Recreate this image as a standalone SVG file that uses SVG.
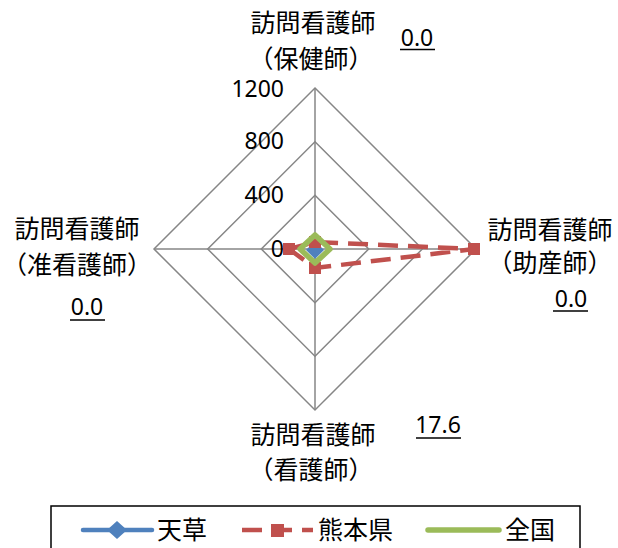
<svg xmlns="http://www.w3.org/2000/svg" width="618" height="548" viewBox="0 0 618 548">
<style>
.cjk{font-family:"Noto Sans CJK JP","Noto Sans",sans-serif;font-size:25px;fill:#000}
.num{font-family:"Noto Sans","Noto Sans CJK JP",sans-serif;font-size:23px;fill:#000}
.grid{fill:none;stroke:#868686;stroke-width:1.5}
.ul{stroke:#000;stroke-width:1.5}
.red{fill:none;stroke:#C0504D;stroke-width:4.5;stroke-dasharray:20 10}
.redm{fill:#C0504D}
.blue{stroke:#4F81BD;stroke-width:4.5;fill:none;stroke-linecap:round}
.bluem{fill:#4F81BD}
.green{fill:none;stroke:#9BBB59;stroke-width:5.5;stroke-linejoin:round;stroke-linecap:round}
</style>
<rect width="618" height="548" fill="#fff"/>
<g id="grid">
<polygon class="grid" points="315,195.3 368.7,249 315,302.7 261.3,249"/>
<polygon class="grid" points="315,141.7 422.3,249 315,356.3 207.7,249"/>
<polygon class="grid" points="315,88 476,249 315,410 154,249"/>
<line class="grid" x1="315" y1="88" x2="315" y2="410"/>
<line class="grid" x1="154" y1="249" x2="476" y2="249"/>
</g>
<g id="axis-labels">
<text class="num" x="284" y="97" text-anchor="end">1200</text>
<text class="num" x="284" y="149" text-anchor="end">800</text>
<text class="num" x="284" y="203" text-anchor="end">400</text>
<text class="num" x="284" y="257" text-anchor="end">0</text>
</g>
<g id="connectors">
<polygon class="bluem" points="315,241 324,250 315,259 306,250"/>
<polygon class="red" points="289,249 315,242 474,249 315,268"/>
<rect class="redm" x="283" y="243" width="12" height="12"/>
<rect class="redm" x="309" y="236" width="12" height="12"/>
<rect class="redm" x="468" y="243" width="12" height="12"/>
<rect class="redm" x="309" y="262" width="12" height="12"/>
<polygon class="green" points="315,235 330,249 315,263 300,249"/>
</g>
<g id="node-top">
<text class="cjk" x="313" y="32" text-anchor="middle">訪問看護師</text>
<text class="cjk" x="311" y="68" text-anchor="middle">（保健師）</text>
<text class="num" x="417" y="46" text-anchor="middle">0.0</text>
<line class="ul" x1="400" y1="49.5" x2="435" y2="49.5"/>
</g>
<g id="node-right">
<text class="cjk" x="550" y="239" text-anchor="middle">訪問看護師</text>
<text class="cjk" x="550" y="272" text-anchor="middle">（助産師）</text>
<text class="num" x="571" y="307" text-anchor="middle">0.0</text>
<line class="ul" x1="553" y1="311" x2="588" y2="311"/>
</g>
<g id="node-left">
<text class="cjk" x="77" y="238" text-anchor="middle">訪問看護師</text>
<text class="cjk" x="77" y="274" text-anchor="middle">（准看護師）</text>
<text class="num" x="87" y="315" text-anchor="middle">0.0</text>
<line class="ul" x1="70" y1="320" x2="105" y2="320"/>
</g>
<g id="node-bottom">
<text class="cjk" x="313" y="444" text-anchor="middle">訪問看護師</text>
<text class="cjk" x="311" y="479" text-anchor="middle">（看護師）</text>
<text class="num" x="438" y="433" text-anchor="middle">17.6</text>
<line class="ul" x1="416" y1="438" x2="461" y2="438"/>
</g>
<g id="legend">
<rect x="51" y="506" width="529" height="60" fill="none" stroke="#000" stroke-width="1.5"/>
<line class="blue" x1="83" y1="530" x2="152" y2="530"/>
<polygon class="bluem" points="117,521 127,530 117,539 107,530"/>
<text class="cjk" x="157" y="539">天草</text>
<line class="red" x1="242" y1="530" x2="313" y2="530" stroke-dasharray="16 13"/>
<rect class="redm" x="271" y="524" width="13" height="13"/>
<text class="cjk" x="318" y="539">熊本県</text>
<line class="green" x1="428" y1="530" x2="499" y2="530"/>
<text class="cjk" x="505" y="539">全国</text>
</g>
</svg>
